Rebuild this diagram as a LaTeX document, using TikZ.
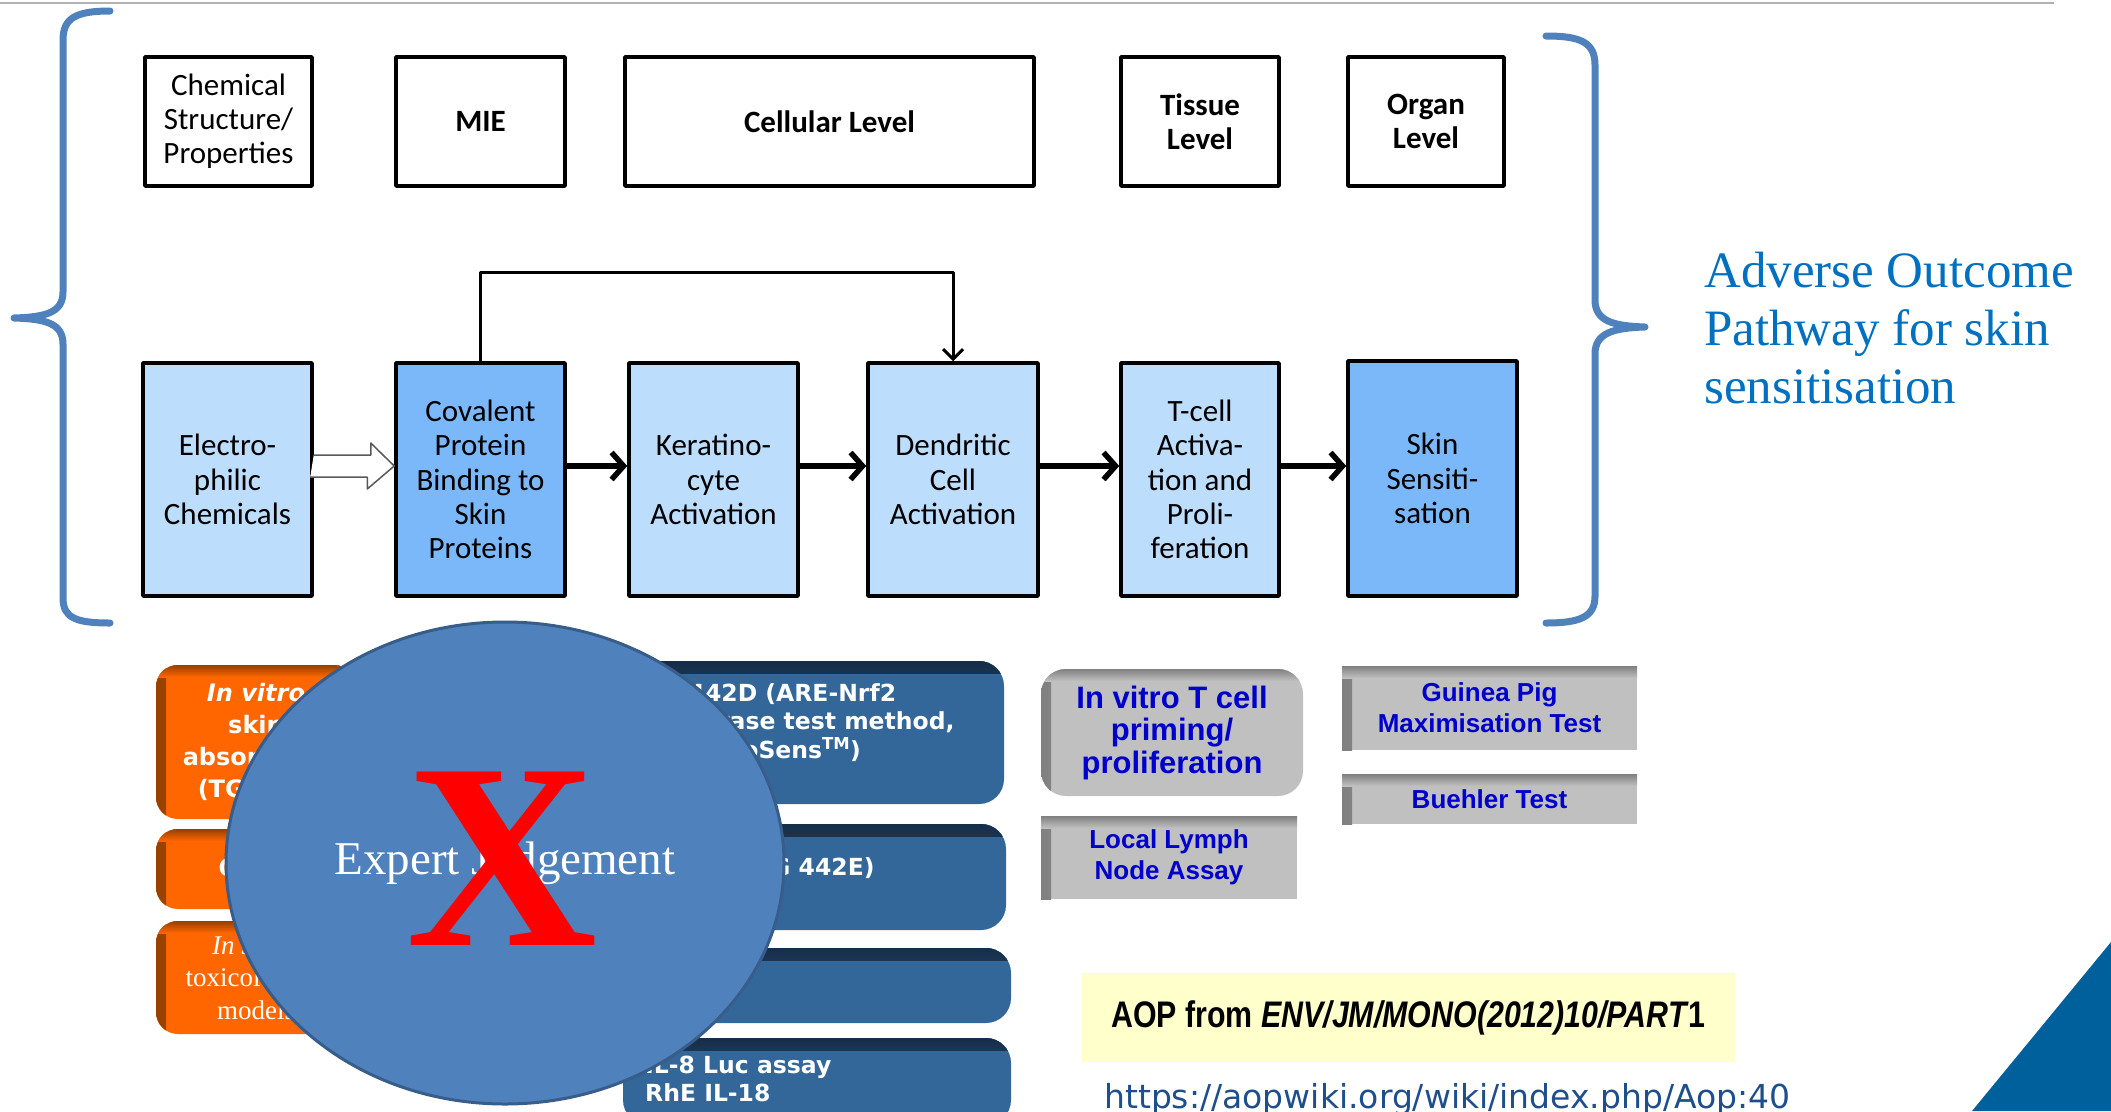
\documentclass[tikz,border=0pt]{standalone}
\usepackage{fontspec}
\setmainfont{Liberation Serif}
\newfontfamily\calibfont{Carlito}
\newfontfamily\verdfont{DejaVu Sans}
\newfontfamily\arialfont{Liberation Sans}
\usetikzlibrary{arrows.meta,shapes.geometric}

\definecolor{evlight}{RGB}{189,221,252}
\definecolor{evdark}{RGB}{122,184,250}
\definecolor{bracecol}{RGB}{79,129,189}
\definecolor{titleblue}{RGB}{0,112,192}
\definecolor{aoporange}{RGB}{255,102,0}
\definecolor{aopbrown}{RGB}{150,64,0}
\definecolor{assayblue}{RGB}{51,102,153}
\definecolor{assaydark}{RGB}{22,45,72}
\definecolor{ejblue}{RGB}{79,129,189}
\definecolor{ejedge}{RGB}{56,93,138}
\definecolor{vivogray}{RGB}{192,192,192}
\definecolor{vivoshade}{RGB}{128,128,128}
\definecolor{vivotext}{RGB}{0,0,204}
\definecolor{notecol}{RGB}{255,255,204}
\definecolor{urlcol}{RGB}{31,78,140}
\definecolor{cornerblue}{RGB}{0,96,156}

\tikzset{
  inshade/.style 2 args={path picture={
      \fill[sharp corners, left color=#1, right color=#2]
        (path picture bounding box.north west) rectangle ([xshift=10pt]path picture bounding box.south west);
      \fill[sharp corners, top color=#1, bottom color=#2]
        (path picture bounding box.north west) rectangle ([yshift=-12pt]path picture bounding box.north east);
  }},
  topshade/.style 2 args={path picture={
      \fill[sharp corners, top color=#1, bottom color=#2]
        (path picture bounding box.north west) rectangle ([yshift=-12pt]path picture bounding box.north east);
  }},
  lvlbold/.style={font=\calibfont\bfseries\fontsize{31}{34}\selectfont},
}

\begin{document}
\begin{tikzpicture}[x=1pt, y=-1pt, line join=round]
\useasboundingbox (0,0) rectangle (2111,1111);
\clip (0,0) rectangle (2111,1111);

\draw[gray!60, line width=2pt] (0,3) -- (2054,3);

% braces
\draw[bracecol, line width=7pt, line cap=round] (110,11) .. controls (76,11) and (63,18) .. (63,40) -- (63,292)
  .. controls (63,313) and (45,317) .. (14,318) .. controls (45,319) and (63,323) .. (63,344) -- (63,598)
  .. controls (63,618) and (76,623) .. (110,623);
\draw[bracecol, line width=7pt, line cap=round] (1546,36) .. controls (1580,36) and (1595,42) .. (1595,65) -- (1595,300)
  .. controls (1595,321) and (1613,326) .. (1645,327) .. controls (1613,328) and (1595,333) .. (1595,354) -- (1595,596)
  .. controls (1595,617) and (1580,623) .. (1546,623);

\node[text=titleblue, align=left, anchor=west, inner sep=0pt, font=\rmfamily\fontsize{51}{58}\selectfont] (aop) at (1704,328)
  {Adverse Outcome\\Pathway for skin\\sensitisation};

\begin{scope}[every node/.style={draw, line width=3.5pt, fill=white, inner sep=0pt, align=center,
    minimum height=129pt, font=\calibfont\fontsize{31}{34}\selectfont}]
  \node[minimum width=167pt] (l1) at (228.5,121.5) {Chemical\\Structure/\\Properties};
  \node[minimum width=169pt, lvlbold] (l2) at (480.5,121.5) {MIE};
  \node[minimum width=409pt, lvlbold] (l3) at (829.5,121.5) {Cellular Level};
  \node[minimum width=158pt, lvlbold] (l4) at (1200,121.5) {Tissue\\Level};
  \node[minimum width=156pt, lvlbold] (l5) at (1426,121.5) {Organ\\Level};
\end{scope}

\begin{scope}[every node/.style={draw, line width=3.5pt, fill=evlight, inner sep=0pt, align=center,
    minimum width=169pt, minimum height=233pt, font=\calibfont\fontsize{31}{34.3}\selectfont}]
  \node (e1) at (227.5,479.5) {Electro-\\philic\\Chemicals};
  \node[fill=evdark] (e2) at (480.5,479.5) {Covalent\\Protein\\Binding to\\Skin\\Proteins};
  \node (e3) at (713.5,479.5) {Keratino-\\cyte\\Activation};
  \node[minimum width=170pt] (e4) at (953,479.5) {Dendritic\\Cell\\Activation};
  \node[minimum width=158pt] (e5) at (1200,479.5) {T-cell\\Activa-\\tion and\\Proli-\\feration};
  \node[fill=evdark, minimum height=235pt] (e6) at (1432.5,478.5) {Skin\\Sensiti-\\sation};
\end{scope}

\coordinate (ay) at (0,466);
\begin{scope}[every edge/.style={draw, line width=5.5pt, -{Straight Barb[length=12pt, width=27pt]}}]
  \path (e2.east |- ay) edge (e3.west |- ay);
  \path (e3.east |- ay) edge (e4.west |- ay);
  \path (e4.east |- ay) edge (e5.west |- ay);
  \path (e5.east |- ay) edge (e6.west |- ay);
\end{scope}
\draw[draw=black!65, line width=1.5pt, fill=white] (e1.east |- ay) ++(0,-11) -- ++(57,0) -- ++(0,-12)
  -- (e2.west |- ay) -- ++(-27,23) -- ++(0,-12) -- ++(-57,0);
\draw[line width=3pt, -{Straight Barb[length=10pt, width=20pt]}] (e2.north) -- ++(0,-89) -| (e4.north);

% test methods
\begin{scope}[every node/.style={rounded corners=22pt, fill=aoporange, inshade={aopbrown}{aoporange}, text=white,
    align=center, inner sep=0pt, minimum width=200pt, font=\verdfont\bfseries\fontsize{24}{32}\selectfont}]
  \node[minimum height=154pt] (o1) at (256,742) {\textit{In vitro}\\skin\\absorption\\(TG 428)};
  \node[minimum height=80pt] (o2) at (256,869) {QSAR};
  \node[minimum height=113pt, font=\rmfamily\fontsize{27}{32.5}\selectfont] (o3) at (256,977.5) {\textit{In silico}\\toxicological\\models};
\end{scope}

\begin{scope}[every node/.style={rounded corners=25pt, fill=assayblue, topshade={assaydark}{assayblue}, inner sep=0pt}]
  \node[minimum width=381pt, minimum height=143pt] (b1) at (813.5,732.5) {};
  \node[minimum width=383pt, minimum height=106pt] (b2) at (814.5,877) {};
  \node[minimum width=388pt, minimum height=75pt] (b3) at (817,985.5) {};
  \node[minimum width=388pt, minimum height=87pt] (b4) at (817,1081.5) {};
\end{scope}
\begin{scope}[every node/.style={text=white, align=left, inner sep=0pt, anchor=north west,
    font=\verdfont\bfseries\fontsize{23.5}{28.5}\selectfont}]
  \node (t1) at (645,683) {TG 442D (ARE-Nrf2\\luciferase test method,\\KeratinoSens\textsuperscript{TM})};
  \node (t2) at (645,857) {h-CLAT (TG 442E)};
  \node (t4) at (645,1055.5) {IL-8 Luc assay\\RhE IL-18};
\end{scope}

\node[ellipse, draw=ejedge, line width=3pt, fill=ejblue, minimum width=558pt, minimum height=482pt, inner sep=0pt,
  text=white, font=\rmfamily\fontsize{47}{50}\selectfont] (ej) at (505,863) {Expert Judgement};
\node[text=red, inner sep=0pt, font=\rmfamily\bfseries\fontsize{265}{265}\selectfont] (cross) at (502,859) {X};

\begin{scope}[every node/.style={fill=vivogray, inshade={vivoshade}{vivogray}, text=vivotext, align=center,
    inner sep=0pt, font=\arialfont\bfseries\fontsize{26}{31}\selectfont}]
  \node[rounded corners=25pt, minimum width=262pt, minimum height=127pt,
    font=\arialfont\bfseries\fontsize{31}{32.5}\selectfont] (g1) at (1172,732.5) {In vitro T cell\\priming/\\proliferation};
  \node[minimum width=256pt, minimum height=83pt] (g2) at (1169,857.5) {Local Lymph\\Node Assay};
  \node[minimum width=295pt, minimum height=84pt] (g3) at (1489.5,708) {Guinea Pig\\Maximisation Test};
  \node[minimum width=295pt, minimum height=50pt] (g4) at (1489.5,799) {Buehler Test};
\end{scope}

\node[fill=notecol, minimum width=653pt, minimum height=89pt, inner sep=0pt,
  font=\arialfont\bfseries\fontsize{37}{40}\selectfont] (src) at (1408.5,1017.5)
  {\scalebox{0.82}[1]{AOP from \textit{ENV/JM/MONO(2012)10/PART}1}};
\node[text=urlcol, anchor=base west, inner sep=0pt, font=\verdfont\fontsize{33}{36}\selectfont] (url) at (1104,1108)
  {https://aopwiki.org/wiki/index.php/Aop:40};

\fill[cornerblue] (1972,1111) -- (2111,942) -- (2111,1111) -- cycle;

\end{tikzpicture}
\end{document}
